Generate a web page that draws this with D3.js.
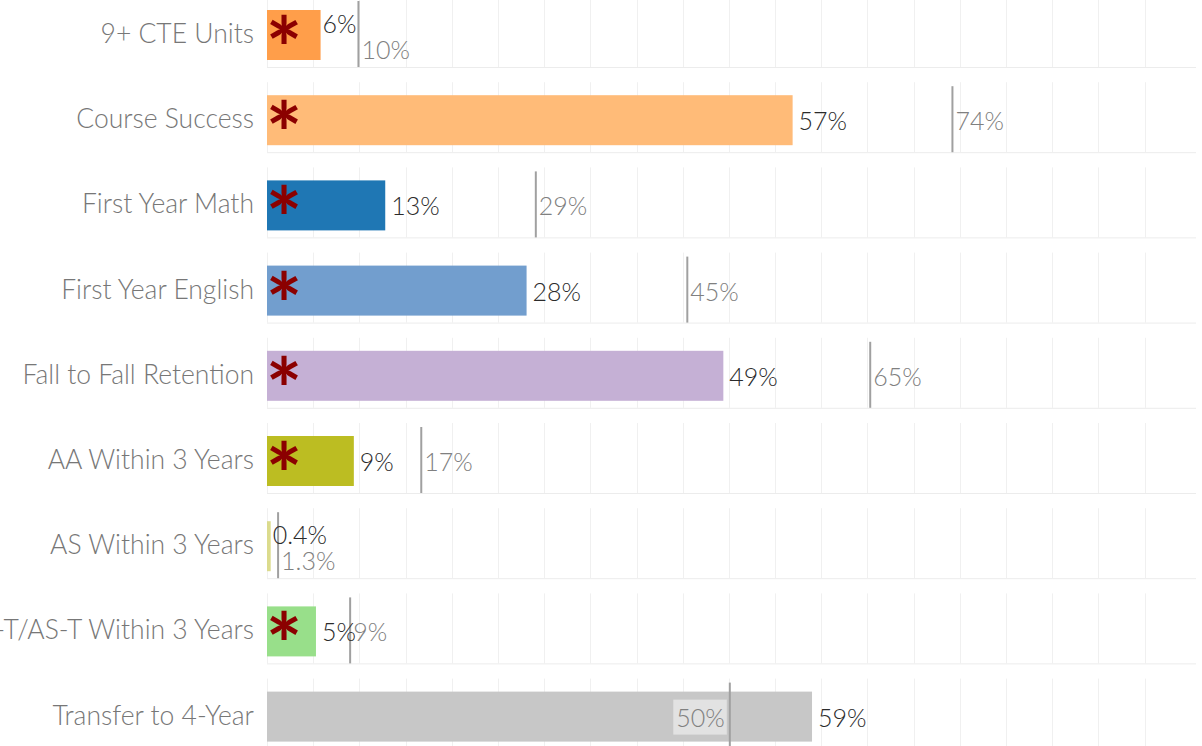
<!DOCTYPE html>
<html>
<head>
<meta charset="utf-8">
<script src="https://cdn.jsdelivr.net/npm/d3@7"></script>
<style>
  body { margin: 0; background: #fff; }
  svg { display: block; font-family: Lato, "Open Sans", sans-serif; font-weight: 300; }
</style>
</head>
<body>
<div id="chart"></div>
<script>
// Data
var categories = ["9+ CTE Units", "Course Success", "First Year Math", "First Year English",
    "Fall to Fall Retention", "AA Within 3 Years", "AS Within 3 Years",
    "AA-T/AS-T Within 3 Years", "Transfer to 4-Year"];
var values = [5.8, 56.9, 12.8, 28.1, 49.4, 9.4, 0.4, 5.3, 59.0];
var references = [9.9, 74.2, 29.1, 45.5, 65.3, 16.7, 1.2, 9.0, 50.1];
var valueLabels = ["6%", "57%", "13%", "28%", "49%", "9%", "0.4%", "5%", "59%"];
var refLabels = ["10%", "74%", "29%", "45%", "65%", "17%", "1.3%", "9%", "50%"];
var colors = ["#ff9e4a", "#ffbb78", "#1f77b4", "#729ece", "#c5b0d5", "#bcbd22", "#dbdb8d", "#98df8a", "#c7c7c7"];
var flagged = [true, true, true, true, true, true, false, true, false]; // red asterisk
var stackedRows = ["9+ CTE Units", "AS Within 3 Years"]; // labels drawn one above the other
var gridTicks = d3.range(0, 100, 5);

var width = 1202, height = 746;
var plotLeft = 267, plotRight = 1200;

var x = d3.scaleLinear().domain([0, 101]).range([plotLeft, plotRight]);

// each row pane is 70px tall, bar is 50px inside it
var rowStep = 85.2, rowTop = -3, paneH = 70, barTop = 13, barH = 50;
var y = d3.scaleBand().domain(categories)
    .range([rowTop, rowTop + rowStep * categories.length])
    .paddingInner(0).paddingOuter(0);

var svg = d3.select("#chart").append("svg")
    .attr("width", width)
    .attr("height", height);

var rows = svg.selectAll("g.row")
    .data(categories)
    .enter().append("g")
    .attr("class", "row")
    .attr("transform", function (d) { return "translate(0," + y(d) + ")"; });

// vertical gridlines inside each pane
rows.each(function () {
    d3.select(this).selectAll("line.grid")
        .data(gridTicks)
        .enter().append("line")
        .attr("class", "grid")
        .attr("x1", function (t) { return Math.round(x(t)) + 0.5; })
        .attr("x2", function (t) { return Math.round(x(t)) + 0.5; })
        .attr("y1", 0).attr("y2", paneH)
        .attr("stroke", "#f0f0f0").attr("stroke-width", 1);
});

// row separator
rows.append("line")
    .attr("x1", plotLeft).attr("x2", 1196)
    .attr("y1", paneH + 0.5).attr("y2", paneH + 0.5)
    .attr("stroke", "#ececec");

// bars
rows.append("rect")
    .attr("x", x(0))
    .attr("y", barTop)
    .attr("width", function (d, i) { return x(values[i]) - x(0); })
    .attr("height", barH)
    .attr("fill", function (d, i) { return colors[i]; });

// category labels
rows.append("text")
    .attr("x", 254)
    .attr("y", barTop + barH / 2 + 8)
    .attr("text-anchor", "end")
    .attr("fill", "#777")
    .style("font-size", "26.5px")
    .text(function (d) { return d; });

// asterisks
rows.filter(function (d, i) { return flagged[i]; })
    .append("text")
    .attr("x", x(0) + 17)
    .attr("y", barTop + 70)
    .attr("text-anchor", "middle")
    .attr("fill", "#8b0000")
    .style("font-size", "86px")
    .style("font-weight", "bold")
    .text("*");

// reference lines
rows.append("line")
    .attr("x1", function (d, i) { return x(references[i]); })
    .attr("x2", function (d, i) { return x(references[i]); })
    .attr("y1", 4).attr("y2", paneH)
    .attr("stroke", "#a0a0a0").attr("stroke-width", 2);

var mid = barTop + barH / 2;

// reference labels (left of the line with a box when the bar runs past it)
rows.each(function (d, i) {
    var g = d3.select(this);
    var stacked = stackedRows.indexOf(d) >= 0;
    var inside = values[i] > references[i];
    var rx = x(references[i]);
    var t = g.append("text")
        .attr("x", inside ? rx - 5 : rx + 3)
        .attr("y", stacked ? mid + 24 : mid + 10)
        .attr("text-anchor", inside ? "end" : "start")
        .attr("fill", "#808080")
        .style("font-size", "25px")
        .text(refLabels[i]);
    if (inside) {
        var bb = t.node().getBBox();
        g.insert("rect", "text:last-child")
            .attr("x", bb.x - 3).attr("y", mid - 17)
            .attr("width", bb.width + 5).attr("height", 35)
            .attr("fill", "#e2e2e2");
    }
    g.append("text")
        .attr("x", x(values[i]) + (stacked ? 2 : 6))
        .attr("y", stacked ? mid - 2 : mid + 10)
        .attr("fill", "#2b2b2b")
        .style("font-size", "25px")
        .text(valueLabels[i]);
});
</script>
</body>
</html>
